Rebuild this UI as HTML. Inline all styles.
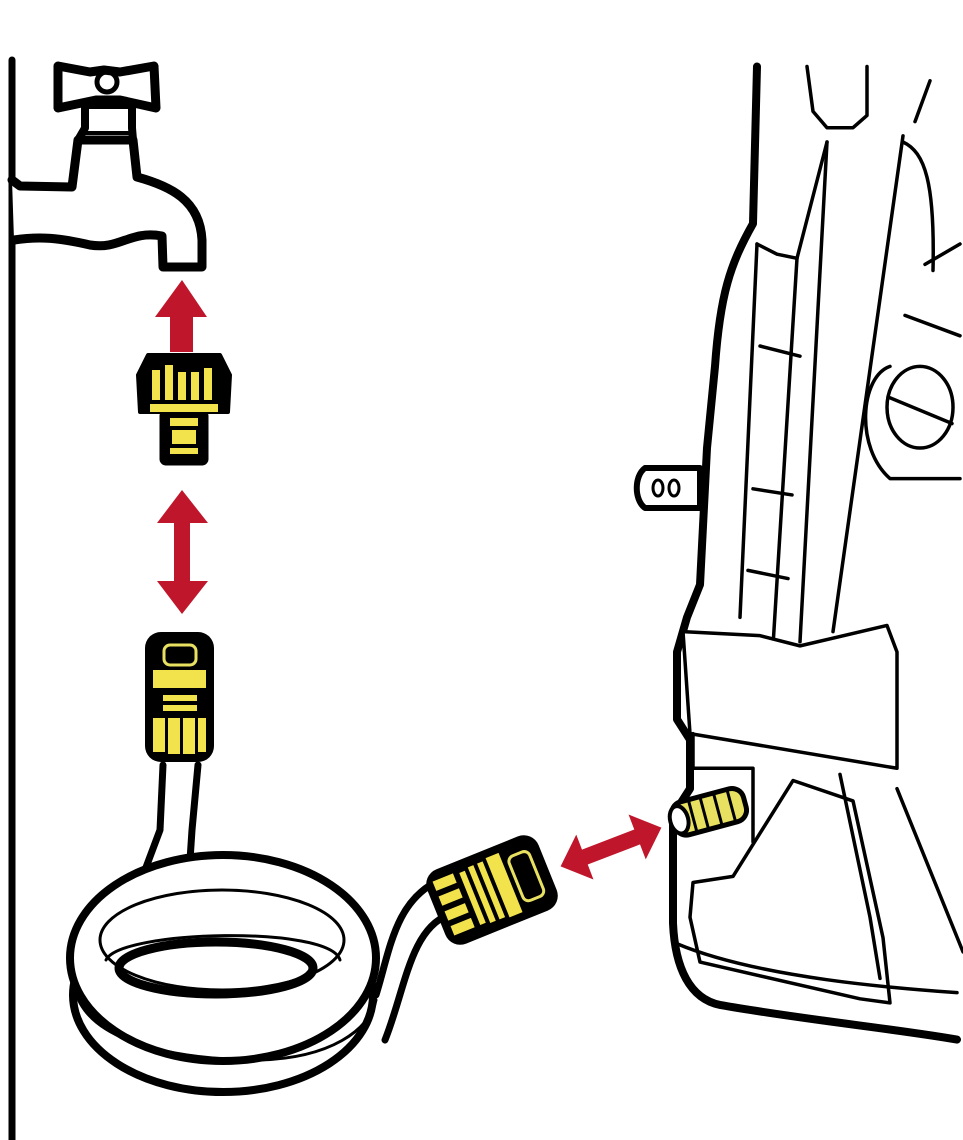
<!DOCTYPE html>
<html><head><style>html,body{margin:0;padding:0;background:#fff}svg{display:block}</style></head>
<body>
<svg width="963" height="1140" viewBox="0 0 963 1140" xmlns="http://www.w3.org/2000/svg">
<rect width="963" height="1140" fill="#fff"/>
<g fill="none" stroke="#000" stroke-linejoin="round" stroke-linecap="round">
<!-- wall -->
<line x1="12" y1="60" x2="12" y2="1140" stroke-width="7"/>
<!-- tap -->
<path d="M12 180 L20 186 L72 187 L78 140 L133 140 L137 177 C170 186 200 200 202 240 L202 267 L163 267 L162 236 C130 230 120 250 90 245 C60 238 40 236 14 240" stroke-width="9" fill="#fff"/>
<path d="M78 140 L85 128 L85 105 L132 105 L132 128 L133 140" stroke-width="8"/>
<line x1="80" y1="133" x2="133" y2="133" stroke-width="4"/>
<path d="M58 66 L90 72 L104 70 L120 72 L154 66 L156 108 L120 100 L96 100 L58 108 Z" stroke-width="9" fill="#fff"/>
<circle cx="107" cy="82" r="10" stroke-width="5"/>
<!-- hose coil -->
<path d="M163 765 L160 830 L145 870" stroke-width="7"/>
<path d="M198 765 L192 830 L190 860" stroke-width="7"/>
<ellipse cx="223" cy="995" rx="150" ry="97" stroke-width="8" fill="#fff"/>
<ellipse cx="223" cy="958" rx="153" ry="103" stroke-width="8" fill="#fff"/>
<path d="M75 990 C90 1050 200 1060 260 1060 C330 1058 370 1030 376 1000" stroke-width="3"/>
<ellipse cx="222" cy="940" rx="122" ry="50" stroke-width="3"/>
<path d="M106 960 C120 930 330 925 340 960" stroke-width="3"/>
<ellipse cx="216" cy="968" rx="97" ry="26" stroke-width="9"/>
<path d="M376 995 C390 950 395 900 440 880" stroke-width="7" fill="#fff"/>
<path d="M385 1040 C405 990 410 930 448 915" stroke-width="7"/>
<!-- washer (y-stretched) -->
<g transform="translate(0,40) scale(1,2.04) translate(0,-40)">
<path vector-effect="non-scaling-stroke" d="M757 53 L753 130 C730 150 720 165 715 200 L707 240 L700 307 L687 323 L677 340 L677 373 L690 383 L690 407 L673 420 L673 473 C675 495 690 510 720 513 C800 520 900 525 957 530" stroke-width="8"/>
<g stroke-width="3.5">
<path vector-effect="non-scaling-stroke" d="M807 53 L813 75 L827 83 L853 83 L867 77 L867 53"/>
<path vector-effect="non-scaling-stroke" d="M757 140 L777 145 L797 147 L827 90"/>
<path vector-effect="non-scaling-stroke" d="M757 140 L740 323"/>
<path vector-effect="non-scaling-stroke" d="M797 147 L773 337"/>
<path vector-effect="non-scaling-stroke" d="M760 190 L800 195"/><path vector-effect="non-scaling-stroke" d="M753 260 L792 263"/><path vector-effect="non-scaling-stroke" d="M748 300 L788 304"/>
<path vector-effect="non-scaling-stroke" d="M827 90 L800 335"/>
<path vector-effect="non-scaling-stroke" d="M903 87 L833 330"/>
<path vector-effect="non-scaling-stroke" d="M903 90 C925 95 935 110 933 153"/>
<path vector-effect="non-scaling-stroke" d="M925 150 L960 140"/><path vector-effect="non-scaling-stroke" d="M905 175 L960 185"/>
<path vector-effect="non-scaling-stroke" d="M930 60 L915 80"/>
<path vector-effect="non-scaling-stroke" d="M890 200 C860 205 855 240 890 255 L960 255"/>
<ellipse vector-effect="non-scaling-stroke" cx="920" cy="220" rx="33" ry="20"/>
<path vector-effect="non-scaling-stroke" d="M888 215 L952 228"/>
<path vector-effect="non-scaling-stroke" d="M683 330 L760 332 L800 337 L887 327 L897 340 L897 397 L690 380 Z" fill="#fff"/>
<path vector-effect="non-scaling-stroke" d="M693 453 L733 450 L793 403 L853 413 L883 480 L890 512 L860 510 L700 492 L690 470 Z"/>
<path vector-effect="non-scaling-stroke" d="M840 400 L870 470 L880 500"/>
<path vector-effect="non-scaling-stroke" d="M897 407 L963 487"/>
<path vector-effect="non-scaling-stroke" d="M677 483 C760 500 900 505 957 507"/>
<path vector-effect="non-scaling-stroke" d="M693 380 L693 397 L753 397 L753 433"/>
</g>
</g>
<path d="M645 468 L700 468 L700 508 L645 508 C634 500 634 476 645 468 Z" stroke-width="6" fill="#fff"/>
<ellipse cx="658" cy="488" rx="5" ry="8" stroke-width="3"/><ellipse cx="674" cy="488" rx="5" ry="8" stroke-width="3"/>
</g>
<!-- washer port (yellow) -->
<g transform="translate(712,811) rotate(-15)">
<rect x="-40" y="-17" width="74" height="34" rx="12" fill="#e8e060" stroke="#000" stroke-width="5"/>
<ellipse cx="-34" cy="0" rx="9" ry="14" fill="#fff" stroke="#000" stroke-width="4"/>
<path d="M-20 -15 L-20 15 M-8 -17 L-8 17 M6 -17 L6 17 M20 -16 L20 16" stroke="#000" stroke-width="3"/>
</g>
<!-- red arrows -->
<g fill="#c0162b">
<path d="M182 280 L207 317 L193 317 L193 352 L170 352 L170 317 L155 317 Z"/>
<path d="M182 490 L208 523 L190 523 L190 581 L208 581 L182 614 L157 581 L174 581 L174 523 L157 523 Z"/>
<g transform="translate(611,847) rotate(-21)">
<path d="M-54 0 L-28 -24 L-28 -8 L28 -8 L28 -24 L54 0 L28 24 L28 8 L-28 8 L-28 24 Z"/>
</g>
</g>
<!-- top adapter -->
<g stroke="#000" stroke-linejoin="round">
<path d="M148 355 L220 355 L230 375 L228 412 L140 412 L138 375 Z" fill="#000" stroke-width="4"/>
<rect x="160" y="410" width="48" height="55" rx="6" fill="#000"/>
<g fill="#f2e34c" stroke="none">
<rect x="152" y="370" width="8" height="30"/><rect x="165" y="365" width="8" height="35"/><rect x="178" y="372" width="8" height="28"/><rect x="191" y="372" width="8" height="28"/><rect x="204" y="368" width="8" height="32"/>
<rect x="150" y="404" width="68" height="8"/>
<rect x="170" y="418" width="28" height="8"/><rect x="172" y="430" width="24" height="14"/><rect x="170" y="448" width="28" height="6"/>
</g>
</g>
<!-- hose connector vertical -->
<g>
<rect x="145" y="632" width="69" height="130" rx="16" fill="#000"/>
<g fill="#f2e34c">
<rect x="164" y="645" width="32" height="20" rx="6" fill="none" stroke="#e8e060" stroke-width="3"/>
<rect x="153" y="670" width="53" height="18"/>
<rect x="163" y="695" width="34" height="6"/><rect x="163" y="705" width="34" height="6"/>
<rect x="153" y="718" width="12" height="34"/><rect x="168" y="718" width="12" height="36"/><rect x="183" y="718" width="12" height="36"/><rect x="198" y="718" width="8" height="34"/>
</g>
</g>
<!-- hose connector diagonal -->
<g transform="translate(492,890) rotate(-22)">
<rect x="-60" y="-40" width="120" height="80" rx="16" fill="#000"/>
<g fill="#f2e34c">
<rect x="-52" y="-30" width="22" height="10"/><rect x="-52" y="-14" width="22" height="10"/><rect x="-52" y="2" width="22" height="10"/><rect x="-52" y="18" width="22" height="10"/>
<rect x="-24" y="-28" width="6" height="56"/><rect x="-14" y="-30" width="6" height="60"/><rect x="-4" y="-30" width="6" height="60"/>
<rect x="6" y="-32" width="14" height="64"/>
<rect x="26" y="-24" width="22" height="48" rx="6" fill="none" stroke="#e8e060" stroke-width="3"/>
</g>
</g>
</svg>
</body></html>
